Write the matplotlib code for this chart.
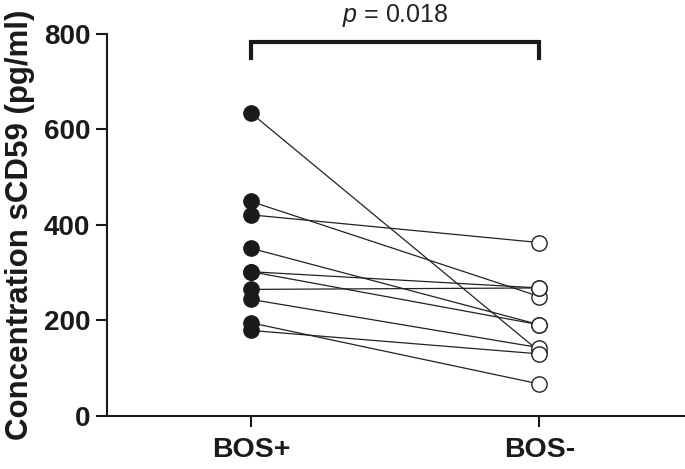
import matplotlib.pyplot as plt

groups = ["BOS+", "BOS-"]
bos_pos = [634, 449, 421, 351, 302, 302, 265, 244, 195, 179]
bos_neg = [135, 250, 363, 191, 268, 191, 268, 143, 67, 130]
p_text = "$p$ = 0.018"

plt.rcParams['font.family'] = ['Liberation Sans', 'DejaVu Sans']
plt.rcParams['mathtext.fontset'] = 'custom'
plt.rcParams['mathtext.it'] = 'Liberation Sans:italic'
plt.rcParams['mathtext.rm'] = 'Liberation Sans'

fig = plt.figure(figsize=(6.85, 4.69), dpi=100)
ax = fig.add_axes([0.156, 0.113, 0.842, 0.815])

for a, b in zip(bos_pos, bos_neg):
    ax.plot([0, 1], [a, b], color='#222222', lw=0.9, zorder=1)
ax.plot([0] * len(bos_pos), bos_pos, 'o', color='#1a1a1a', ms=11, zorder=3)
ax.plot([1] * len(bos_neg), bos_neg, 'o', mfc='white', mec='#222222',
        mew=1.0, ms=11, zorder=3)

# significance bracket
ax.plot([0, 0, 1, 1], [750, 783, 783, 750], color='#1a1a1a', lw=3,
        solid_joinstyle='miter', clip_on=False)
ax.text(0.5, 838, p_text, ha='center', va='center', fontsize=18,
        color='#222222', clip_on=False)

ax.set_xlim(-0.5, 1.5)
ax.set_ylim(0, 800)
ax.set_yticks([0, 200, 400, 600, 800])
ax.set_xticks([0, 1])
ax.set_xticklabels(groups)
for lbl in ax.get_yticklabels():
    lbl.set_fontweight('bold')
    lbl.set_fontsize(20)
    lbl.set_color('#1a1a1a')
for lbl in ax.get_xticklabels():
    lbl.set_fontweight('bold')
    lbl.set_fontsize(20.5)
    lbl.set_color('#1a1a1a')
ax.set_ylabel("Concentration sCD59 (pg/ml)", fontsize=22.5, fontweight='bold',
              color='#1a1a1a', labelpad=6)

ax.spines['top'].set_visible(False)
ax.spines['right'].set_visible(False)
for s in ['left', 'bottom']:
    ax.spines[s].set_linewidth(1.5)
    ax.spines[s].set_color('#1a1a1a')
ax.tick_params(axis='both', length=8, width=1.5, color='#1a1a1a')
ax.tick_params(axis='y', pad=4)
ax.tick_params(axis='x', pad=7)

fig.savefig("out.png", dpi=100)
